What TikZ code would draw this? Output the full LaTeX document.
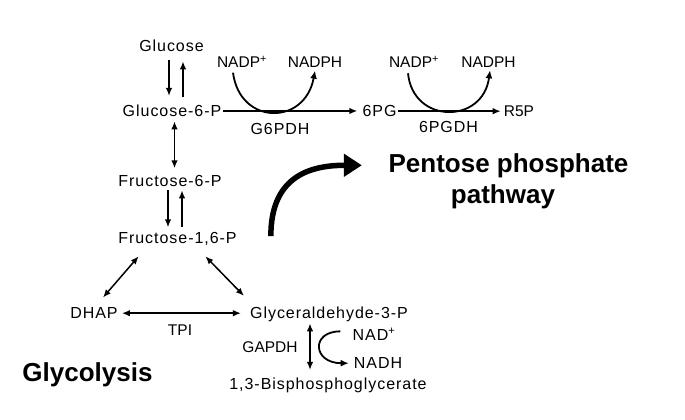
\documentclass[tikz,border=0pt]{standalone}
\usepackage{fontspec}
\setmainfont{Liberation Sans}
\newfontfamily\spfont[LetterSpace=6]{Liberation Sans}
\usetikzlibrary{arrows.meta,calc}
\begin{document}
\begin{tikzpicture}[x=1pt,y=-1pt,
 lbl/.style={inner sep=0pt, anchor=base, font=\fontsize{15.5}{18}\selectfont},
 sp/.style={inner sep=0pt, anchor=base, font=\fontsize{16}{18}\spfont},
 big/.style={inner sep=0pt, anchor=base, font=\fontsize{26}{31}\selectfont\bfseries},
 arr/.style={line width=1.5pt, -{Latex[length=8pt,width=6.5pt]}},
 darr/.style={line width=1.5pt, {Latex[length=8pt,width=6.5pt]}-{Latex[length=8pt,width=6.5pt]}},
 carr/.style={line width=1.8pt, -{Latex[length=8pt,width=7pt]}},
 bigarr/.style={line width=5.5pt, -{Triangle[length=18pt,width=22pt]}},
]
\useasboundingbox (0,0) rectangle (685,420);
% nodes
\node[sp] (glucose) at (171.5,51.7) {Glucose};
\node[sp] (g6p) at (172,116.7) {Glucose-6-P};
\node[sp] (f6p) at (170,186.7) {Fructose-6-P};
\node[sp] (f16p) at (177.5,243.7) {Fructose-1,6-P};
\node[sp] (dhap) at (94,318.7) {DHAP};
\node[sp] (gap) at (329,318.7) {Glyceraldehyde-3-P};
\node[sp] (bpg) at (328,389.7) {1,3-Bisphosphoglycerate};
\node[lbl] (tpi) at (180,335.5) {TPI};
\node[lbl] (gapdh) at (270,352.5) {GAPDH};
\node[sp] (nad) at (374,340.7) {NAD\textsuperscript{+}};
\node[sp] (nadh) at (378,368.7) {NADH};
\node[sp] (pg6) at (379.5,116.7) {6PG};
\node[lbl] (r5p) at (519,116.5) {R5P};
\node[sp] (g6pdh) at (280,134.7) {G6PDH};
\node[sp] (pgdh6) at (448.5,132.7) {6PGDH};
\node[lbl] (nadp1) at (242,67.5) {NADP\textsuperscript{+}};
\node[lbl] (nadph1) at (315,67.5) {NADPH};
\node[lbl] (nadp2) at (414,67.5) {NADP\textsuperscript{+}};
\node[lbl] (nadph2) at (488.5,67.5) {NADPH};
\node[big] (glyco) at (87.5,381) {Glycolysis};
\node[big] (ppp1) at (508.5,172) {Pentose phosphate};
\node[big] (ppp2) at (503,203) {pathway};
% glycolysis connectors
\draw[arr, shorten <=8.3pt, shorten >=9pt] (glucose.south -| 169,0) -- (g6p.north -| 169,0);
\draw[arr, shorten <=8pt, shorten >=9.3pt] (g6p.north -| 183,0) -- (glucose.south -| 183,0);
\draw[darr, shorten <=4.3pt, shorten >=7pt] (g6p.south -| 174.5,0) -- (f6p.north -| 174.5,0);
\draw[arr, shorten <=3.3pt, shorten >=5pt] (f6p.south -| 168,0) -- (f16p.north -| 168,0);
\draw[arr, shorten <=5pt, shorten >=3.3pt] (f16p.north -| 182,0) -- (f6p.south -| 182,0);
\draw[darr] ($(f16p.south west)+(20.5,10.3)$) -- ($(dhap.north)+(9,-10)$);
\draw[darr] ($(f16p.south east)+(-31.5,10.3)$) -- ($(gap.north west)+(-6,-11)$);
\draw[darr, shorten <=4pt, shorten >=9pt] (dhap.east) -- (dhap.east -| gap.west);
\draw[darr, shorten <=1.2pt, shorten >=8pt] (gap.south -| 310,0) -- (bpg.north -| 310,0);
\draw[carr] ($(nad.west)+(-12,-3)$) .. controls +(-30,0) and +(-36,0) .. ($(nadh.west)+(-5,0)$);
% pentose phosphate connectors
\draw[arr, shorten <=1.5pt, shorten >=5pt] (g6p.east) -- (g6p.east -| pg6.west);
\draw[arr, shorten <=1.5pt, shorten >=3pt] (pg6.east) -- (pg6.east -| r5p.west);
\draw[carr] ($(nadp1.south)+(-9,5)$) .. controls +(7,53) and +(-10,55) .. ($(nadph1.south)+(0,3)$);
\draw[carr] ($(nadp2.south)+(-6,5.6)$) .. controls +(5,51) and +(-7,54) .. ($(nadph2.south)+(1.5,2.6)$);
\coordinate (bigstart) at ($(f16p.east)+(34,-3)$);
\draw[bigarr] (bigstart) .. controls +(0,-56) and +(-57,0) .. ($(ppp1.west)+(-26.5,0)$);
\end{tikzpicture}
\end{document}
